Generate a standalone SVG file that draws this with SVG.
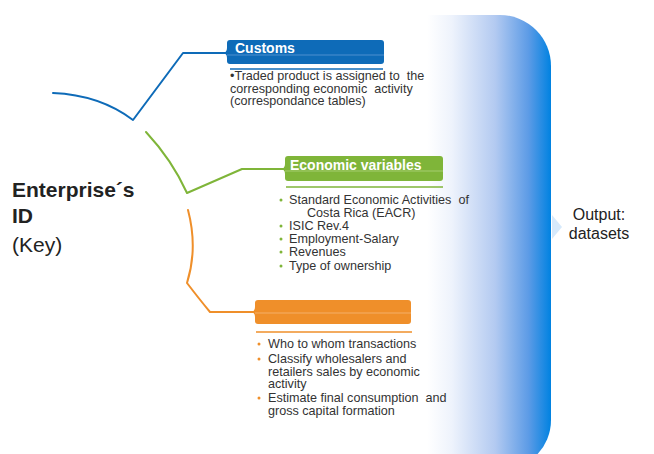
<svg xmlns="http://www.w3.org/2000/svg" width="654" height="454" viewBox="0 0 654 454">
<defs>
<linearGradient id="outGrad" x1="427" y1="0" x2="551" y2="0" gradientUnits="userSpaceOnUse">
<stop offset="0" stop-color="#ffffff"/>
<stop offset="0.2" stop-color="#eef3fc"/>
<stop offset="0.55" stop-color="#b3caf1"/>
<stop offset="0.82" stop-color="#5c9be6"/>
<stop offset="1" stop-color="#0082e1"/>
</linearGradient>
</defs>
<style>
.body{font-family:"Liberation Sans",Arial,sans-serif;font-size:12.6px;fill:#333333;white-space:pre}
.head{font-family:"Liberation Sans",Arial,sans-serif;font-size:14px;font-weight:bold;fill:#ffffff}
.title{font-family:"Liberation Sans",Arial,sans-serif;font-size:21px;fill:#222222}
.out{font-family:"Liberation Sans",Arial,sans-serif;font-size:16px;fill:#222222}
.conn{fill:none;stroke-width:2;stroke-linejoin:round;stroke-linecap:round}
</style>
<rect width="654" height="454" fill="#ffffff"/>

<g id="output">
<path d="M427 15 H500 A51 51 0 0 1 551 66 V420 A50 50 0 0 1 501 470 H427 Z" fill="url(#outGrad)"/>
<polygon points="552,215 562,227 552,239" fill="#d6e9fb"/>
<text class="out" x="599" y="220" text-anchor="middle">Output:</text>
<text class="out" x="599" y="239" text-anchor="middle">datasets</text>
</g>

<g id="connectors">
<path class="conn" stroke="#0e6bb8" d="M53 93 Q100 95 133 120 L183 53 H230"/>
<path class="conn" stroke="#7fb539" d="M146 132 Q172 160 187 193 L242 169 H287"/>
<path class="conn" stroke="#ef8f2a" d="M188 210 Q198 248 187 283 Q200 300 210 312 H257"/>
</g>

<g id="key">
<text class="title" x="12" y="197" font-weight="bold">Enterprise´s</text>
<text class="title" x="12" y="223" font-weight="bold">ID</text>
<text class="title" x="12" y="252">(Key)</text>
</g>

<g id="customs">
<path d="M227 48 Q227 53 222 53 Q227 53 227 58 Z" fill="#0e6bb8"/>
<rect x="227" y="40" width="157" height="24" rx="3" fill="#0e6bb8"/>
<line x1="227" y1="55" x2="384" y2="55" stroke="#5d9bd5" stroke-width="0.8"/>
<text class="head" x="235" y="53">Customs</text>
<line x1="230" y1="69" x2="383" y2="69" stroke="#0e6bb8" stroke-width="1.5"/>
<text class="body" x="230" y="80">•Traded product is assigned to  the</text>
<text class="body" x="230" y="92.5">corresponding economic  activity</text>
<text class="body" x="230" y="105">(correspondance tables)</text>
</g>

<g id="economic">
<path d="M285 164 Q285 169 280 169 Q285 169 285 174 Z" fill="#7fb539"/>
<rect x="285" y="156" width="158" height="25" rx="3" fill="#7fb539"/>
<line x1="285" y1="171" x2="443" y2="171" stroke="#b0d47e" stroke-width="0.8"/>
<text class="head" x="290" y="170">Economic variables</text>
<line x1="286" y1="187" x2="443" y2="187" stroke="#7fb539" stroke-width="1.5"/>
<g fill="#7fb539"><circle cx="281" cy="200" r="1.5"/><circle cx="281" cy="226" r="1.5"/><circle cx="281" cy="239" r="1.5"/><circle cx="281" cy="252" r="1.5"/><circle cx="281" cy="266" r="1.5"/></g>
<text class="body" x="289" y="204">Standard Economic Activities  of</text>
<text class="body" x="307" y="216.5">Costa Rica (EACR)</text>
<text class="body" x="289" y="230">ISIC Rev.4</text>
<text class="body" x="289" y="243">Employment-Salary</text>
<text class="body" x="289" y="256">Revenues</text>
<text class="body" x="289" y="270">Type of ownership</text>
</g>

<g id="orange">
<path d="M255 307 Q255 312 250 312 Q255 312 255 317 Z" fill="#ef8f2a"/>
<rect x="255" y="300" width="156" height="24" rx="3" fill="#ef8f2a"/>
<line x1="255" y1="313" x2="411" y2="313" stroke="#f6b878" stroke-width="0.8"/>
<line x1="256" y1="332" x2="412" y2="332" stroke="#ef8f2a" stroke-width="1.5"/>
<g fill="#ef8f2a"><circle cx="259" cy="344" r="1.5"/><circle cx="259" cy="359" r="1.5"/><circle cx="259" cy="398" r="1.5"/></g>
<text class="body" x="268" y="348">Who to whom transactions</text>
<text class="body" x="268" y="363">Classify wholesalers and</text>
<text class="body" x="268" y="375.5">retailers sales by economic</text>
<text class="body" x="268" y="388">activity</text>
<text class="body" x="268" y="402">Estimate final consumption  and</text>
<text class="body" x="268" y="414.5">gross capital formation</text>
</g>
</svg>
